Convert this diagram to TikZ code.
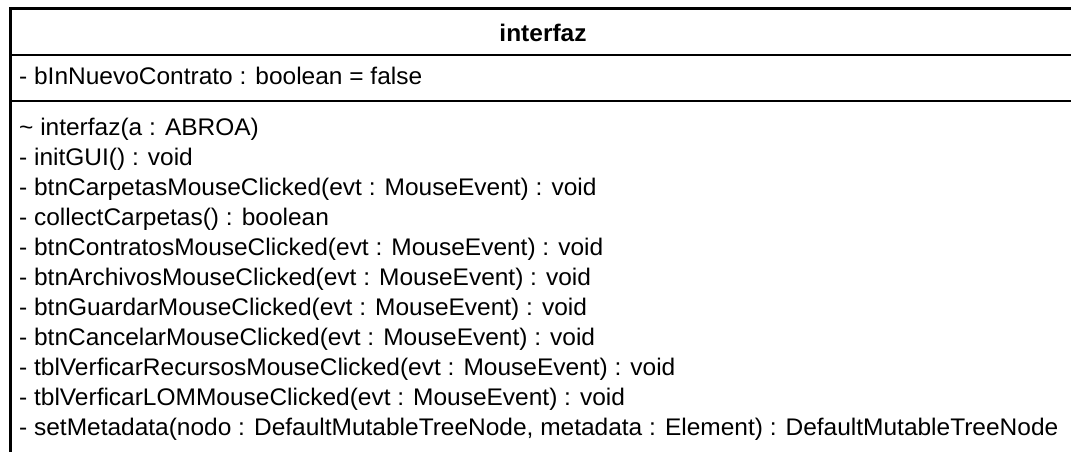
\documentclass[tikz,border=0pt]{standalone}
\usepackage{fontspec}
\setmainfont[FakeStretch=1.02]{Liberation Sans}
\begin{document}
\begin{tikzpicture}[x=1pt,y=-1pt,
  txt/.style={anchor=base west, inner sep=0pt, font=\fontsize{24}{28}\selectfont},
  ttl/.style={anchor=base, inner sep=0pt, font=\fontsize{24}{28}\selectfont\bfseries},
  border/.style={line width=3pt, black},
  divider/.style={line width=2pt, black}]
\useasboundingbox (0,0) rectangle (1071,451);
\fill[white] (0,0) rectangle (1071,451);
\coordinate (bl) at (10.3,460);
\coordinate (tl) at (10.3,8.3);
\coordinate (tr) at (1080,8.3);
\draw[border] (bl) -- (tl) -- (tr);
\coordinate (d1l) at (10,55);
\coordinate (d1r) at (1080,55);
\coordinate (d2l) at (10,100.5);
\coordinate (d2r) at (1080,100.5);
\draw[divider] (d1l) -- (d1r);
\draw[divider] (d2l) -- (d2r);
\node[ttl] (title) at (543,41) {interfaz};
\node[txt] (a1) at (19,84) {- bInNuevoContrato : boolean = false};
\node[txt] (m1) at (19,135) {\textasciitilde{} interfaz(a : ABROA)};
\node[txt] (m2) at (19,165) {- initGUI() : void};
\node[txt] (m3) at (19,195) {- btnCarpetasMouseClicked(evt : MouseEvent) : void};
\node[txt] (m4) at (19,225) {- collectCarpetas() : boolean};
\node[txt] (m5) at (19,255) {- btnContratosMouseClicked(evt : MouseEvent) : void};
\node[txt] (m6) at (19,285) {- btnArchivosMouseClicked(evt : MouseEvent) : void};
\node[txt] (m7) at (19,315) {- btnGuardarMouseClicked(evt : MouseEvent) : void};
\node[txt] (m8) at (19,345) {- btnCancelarMouseClicked(evt : MouseEvent) : void};
\node[txt] (m9) at (19,375) {- tblVerficarRecursosMouseClicked(evt : MouseEvent) : void};
\node[txt] (m10) at (19,405) {- tblVerficarLOMMouseClicked(evt : MouseEvent) : void};
\node[txt] (m11) at (19,435) {- setMetadata(nodo : DefaultMutableTreeNode, metadata : Element) : DefaultMutableTreeNode};
\end{tikzpicture}
\end{document}
